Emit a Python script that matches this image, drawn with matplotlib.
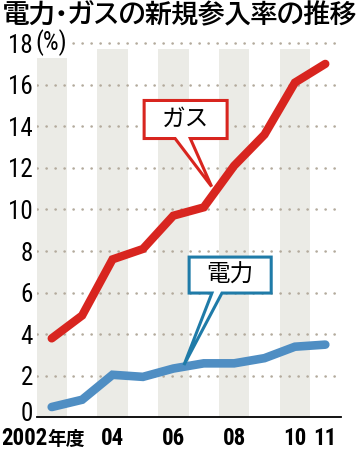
import matplotlib
matplotlib.use("Agg")
import matplotlib.pyplot as plt
from matplotlib.patches import Polygon
from matplotlib.transforms import ScaledTranslation

years = [2002, 2003, 2004, 2005, 2006, 2007, 2008, 2009, 2010, 2011]
gas = [3.8, 4.9, 7.6, 8.1, 9.7, 10.1, 12.1, 13.6, 16.1, 17.0]
denryoku = [0.5, 0.85, 2.05, 1.95, 2.35, 2.6, 2.6, 2.85, 3.4, 3.5]
xtick_labels = ["2002", "04", "06", "08", "10", "11"]
xtick_years = [2002, 2004, 2006, 2008, 2010, 2011]
band_years = [2002, 2004, 2006, 2008, 2010]
yticks = [0, 2, 4, 6, 8, 10, 12, 14, 16, 18]

RED = "#d8251f"
BLUE = "#4f8ec3"
BLUE_EDGE = "#1f7ba8"
NARROW = ["Roboto Condensed", "Noto Sans CJK JP", "DejaVu Sans"]
CJK = ["Noto Sans CJK JP", "DejaVu Sans"]

fig = plt.figure(figsize=(3.59, 4.5), dpi=100)
ax = fig.add_axes([0.1017, 0.0724, 0.8468, 0.855])
ax.set_xlim(2001.5, 2011.5)
ax.set_ylim(0, 18.5)

# 偶数年度の帯
for y in band_years:
    ax.axvspan(y - 0.5, y + 0.5, ymin=0, ymax=17.7 / 18.5, color="#ebebe6", lw=0, zorder=0)

# 点線の目盛り線
for v in yticks[1:]:
    ax.axhline(v, color="#b3aa9c", lw=1.8, linestyle=(0, (0.1, 3.5)),
               dash_capstyle="round", zorder=1)

ax.plot(years, gas, color=RED, lw=6, solid_capstyle="round", solid_joinstyle="miter", zorder=4)
ax.plot(years, denryoku, color=BLUE, lw=6.2, solid_capstyle="round", solid_joinstyle="miter", zorder=4)


def bubble(x0, x1, y0, y1, tb0, tb1, tip, edge, text):
    pts = [(x0, y1), (x1, y1), (x1, y0), (tb1, y0), tip, (tb0, y0), (x0, y0)]
    ax.add_patch(Polygon(pts, closed=True, fc="white", ec=edge, lw=2.2,
                         joinstyle="miter", zorder=5))
    ax.text((x0 + x1) / 2, (y0 + y1) / 2, text, ha="center", va="center",
            fontsize=17, family=CJK, zorder=6)


bubble(2005.04, 2007.77, 13.41, 15.24, 2006.06, 2006.56, (2007.26, 11.1), RED, "ガス")
bubble(2006.52, 2009.22, 5.98, 7.71, 2007.27, 2007.6, (2006.35, 2.52), BLUE_EDGE, "電力")

for s in ["top", "right", "left"]:
    ax.spines[s].set_visible(False)
ax.spines["bottom"].set_linewidth(1.3)
ax.spines["bottom"].set_zorder(3)

ax.set_yticks(yticks)
ax.set_yticklabels([str(v) for v in yticks], family=NARROW, fontsize=18)
ax.tick_params(axis="y", length=0, pad=2.5)
# 「0」は軸線の少し上に
zero = ax.get_yticklabels()[0]
zero.set_transform(zero.get_transform() + ScaledTranslation(0, 4 / 72, fig.dpi_scale_trans))

# 年度ラベル（ベースラインをそろえて手で置く）
ax.set_xticks(xtick_years)
ax.set_xticklabels([])
ax.tick_params(axis="x", length=0)
for yr, lab in zip(xtick_years, xtick_labels):
    if yr == xtick_years[0]:
        ax.annotate(lab, (yr - 0.15, 0), xytext=(0, -19.8), textcoords="offset points",
                    ha="right", va="baseline", family=NARROW, fontsize=16.5,
                    fontweight="bold", annotation_clip=False)
        ax.annotate("年度", (yr - 0.15, 0), xytext=(0, -19.8), textcoords="offset points",
                    ha="left", va="baseline", family=CJK, fontsize=13.5,
                    fontweight="bold", annotation_clip=False)
    else:
        ax.annotate(lab, (yr, 0), xytext=(0, -19.8), textcoords="offset points",
                    ha="center", va="baseline", family=NARROW, fontsize=16.5,
                    fontweight="bold", annotation_clip=False)

ax.text(2001.45, 18, "(%)", ha="left", va="center", fontsize=18, family=NARROW,
        zorder=6, bbox=dict(fc="white", ec="none", pad=1.5))

fig.text(0.5, 0.997, "電力・ガスの新規参入率の推移", ha="center", va="top",
         fontsize=19, fontweight="bold", family=["BIZ UDPGothic", "Noto Sans CJK JP"])

fig.savefig("out.png", dpi=100)
